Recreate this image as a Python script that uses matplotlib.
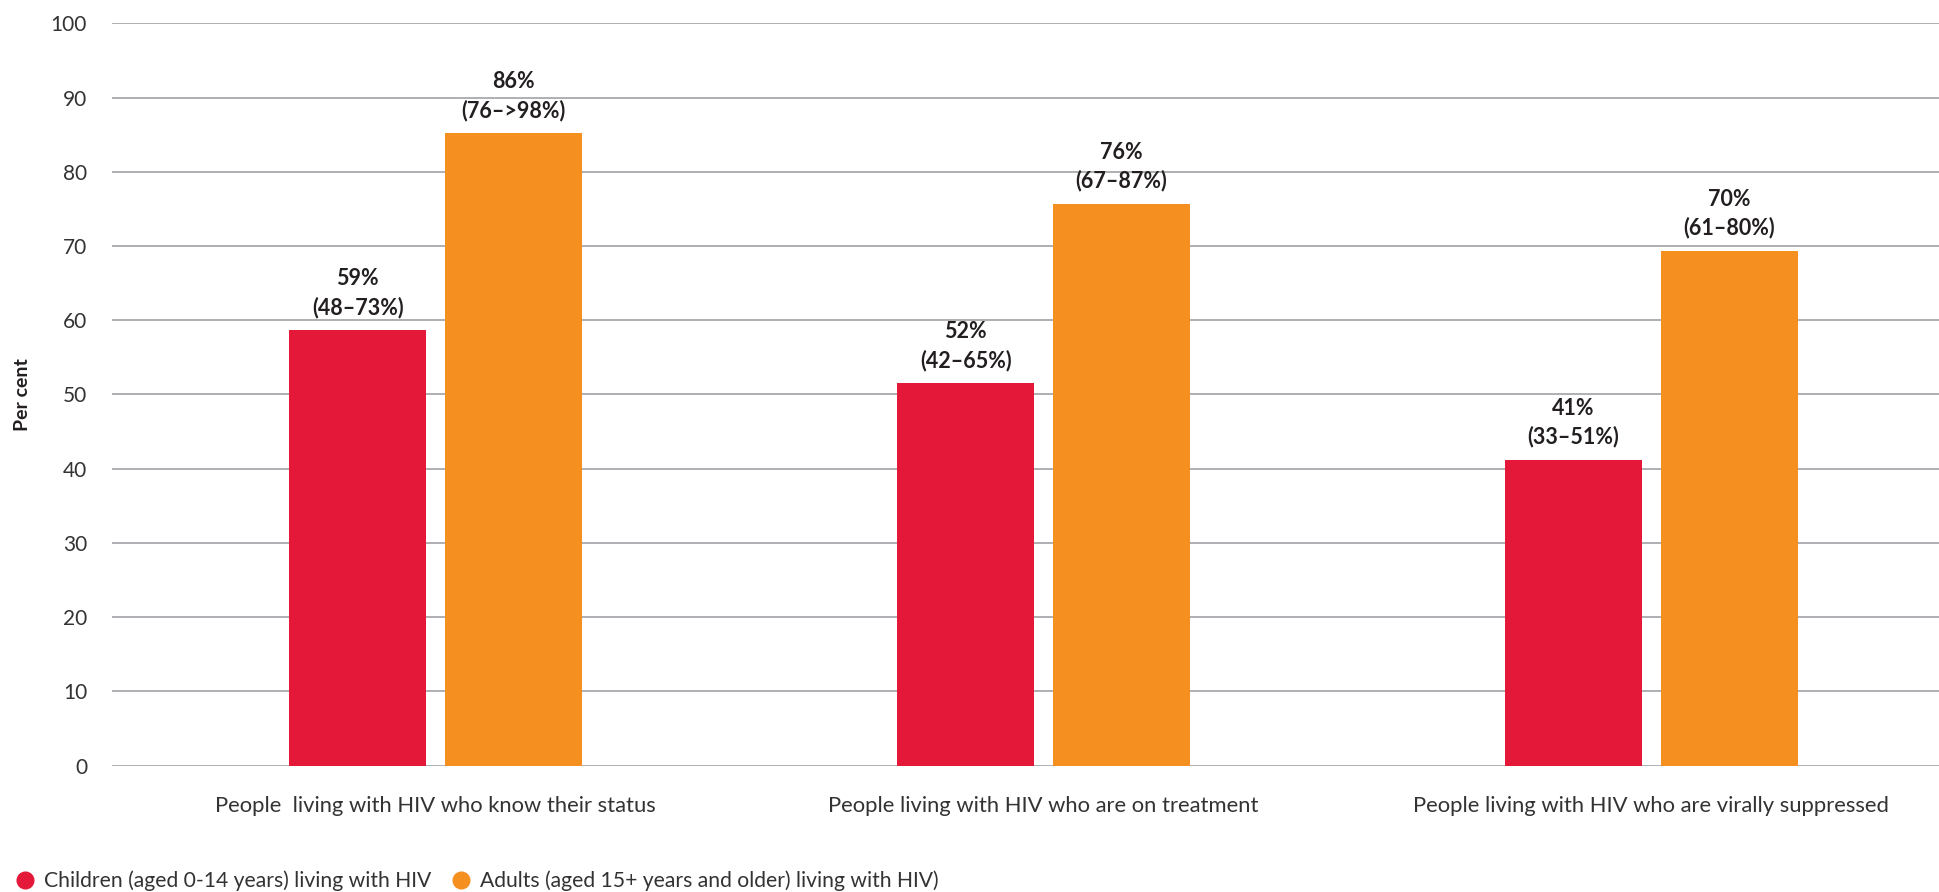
import numpy as np
import matplotlib.pyplot as plt
from matplotlib.lines import Line2D

plt.rcParams['font.family'] = ['Lato', 'DejaVu Sans']

categories = ["People  living with HIV who know their status",
              "People living with HIV who are on treatment",
              "People living with HIV who are virally suppressed"]
children = [58.7, 51.5, 41.2]
adults = [85.2, 75.7, 69.4]
children_labels = ["59%", "52%", "41%"]
children_ranges = ["(48\u201373%)", "(42\u201365%)", "(33\u201351%)"]
adults_labels = ["86%", "76%", "70%"]
adults_ranges = ["(76\u2013>98%)", "(67\u201387%)", "(61\u201380%)"]
series_names = ["Children (aged 0-14 years) living with HIV",
                "Adults (aged 15+ years and older) living with HIV)"]

red = "#E4193A"
orange = "#F58F20"
txt = "#231F20"
grid = "#A7A9AC"

fig = plt.figure(figsize=(19.39, 8.92), dpi=100)
ax = fig.add_axes([0.0578, 0.1418, 0.9422, 0.8319])

x = np.arange(len(categories))
w = 0.225
off = 0.128
b1 = ax.bar(x - off, children, w, color=red, zorder=3)
b2 = ax.bar(x + off, adults, w, color=orange, zorder=3)

for bars, tops, rngs in [(b1, children_labels, children_ranges), (b2, adults_labels, adults_ranges)]:
    for rect, t, r in zip(bars, tops, rngs):
        cx = rect.get_x() + rect.get_width() / 2
        h = rect.get_height()
        ax.annotate(r, (cx, h), xytext=(0, 16.5), textcoords='offset points',
                    ha='center', va='center', fontsize=15.5, fontweight='bold', color=txt)
        ax.annotate(t, (cx, h), xytext=(0, 37), textcoords='offset points',
                    ha='center', va='center', fontsize=15.5, fontweight='bold', color=txt)

ax.set_ylim(0, 100)
ax.set_xlim(-0.532, 2.473)
ax.set_yticks(np.arange(0, 101, 10))
ax.yaxis.grid(True, color=grid, linewidth=1.3, zorder=0)
ax.set_axisbelow(True)
ax.set_xticks(x)
ax.set_xticklabels(categories, fontsize=15.8)
ax.tick_params(axis='both', length=0, colors='#333333')
ax.tick_params(axis='y', pad=18, labelsize=15)
ax.tick_params(axis='x', pad=22)
for s in ax.spines.values():
    s.set_visible(False)

ax.set_ylabel("Per cent", fontsize=14, fontweight='bold', color=txt, labelpad=14)

handles = [Line2D([], [], linestyle='none', marker='o', markersize=12, color=red),
           Line2D([], [], linestyle='none', marker='o', markersize=12, color=orange)]
leg = fig.legend(handles, series_names, loc='center left', bbox_to_anchor=(0.0045, 0.0127),
                 ncol=2, frameon=False, fontsize=15.2, handlelength=0.9,
                 handletextpad=0.45, columnspacing=1.0, borderaxespad=0, borderpad=0.3)
for t in leg.get_texts():
    t.set_color('#333333')

fig.savefig("out.png", dpi=100)
